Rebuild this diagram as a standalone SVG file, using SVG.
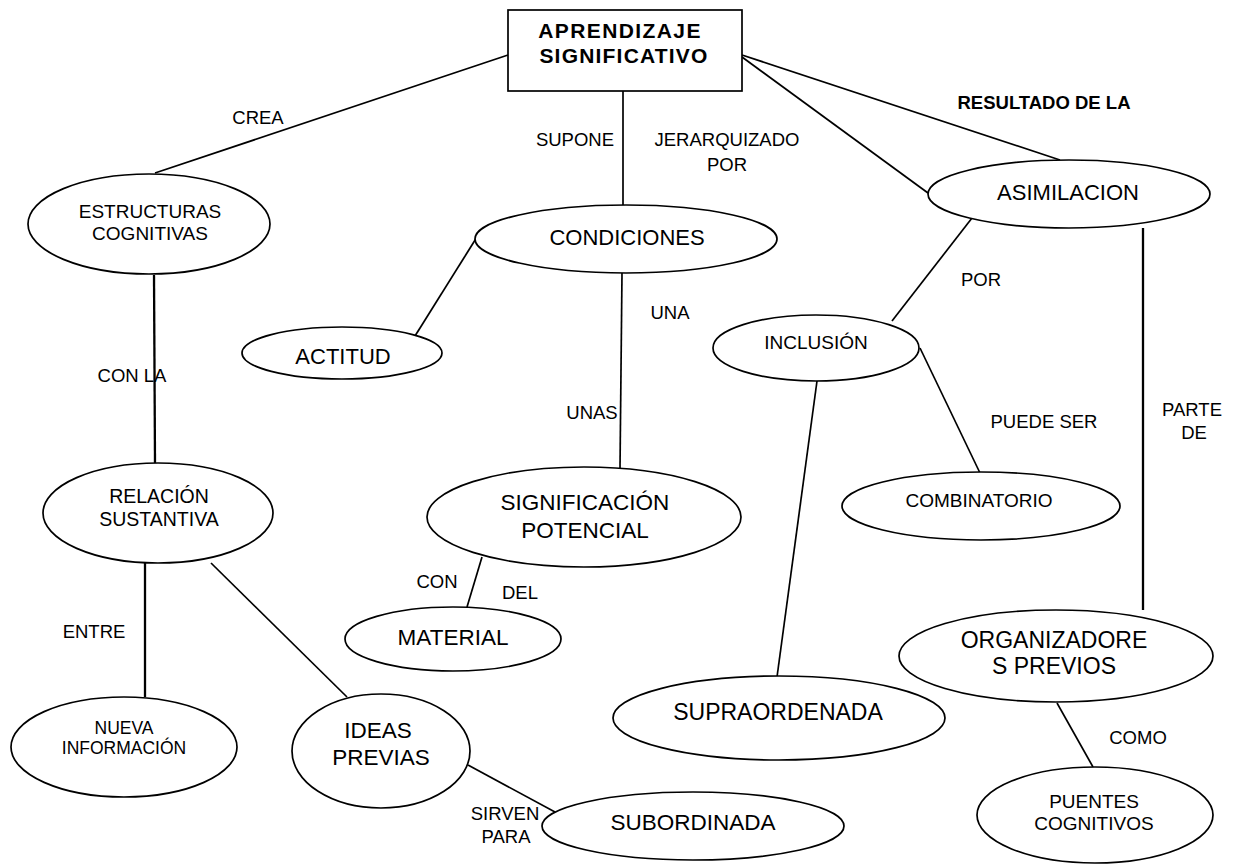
<svg xmlns="http://www.w3.org/2000/svg" width="1239" height="865" viewBox="0 0 1239 865">
<style>
  .n { fill: #fff; stroke: #000; stroke-width: 1.7; }
  .c line { stroke: #000; stroke-width: 1.7; }
  text { font-family: "Liberation Sans", Arial, sans-serif; fill: #000; text-anchor: middle; }
  .lb { font-size: 18.5px; }
  .lbb { font-size: 18.5px; font-weight: bold; }
</style>
<rect width="1239" height="865" fill="#fff"/>
<g class="c" id="connectors">
  <line x1="508" y1="55" x2="155" y2="173"/>
  <line x1="623" y1="91" x2="623" y2="206"/>
  <line x1="742" y1="55" x2="1060" y2="160"/>
  <line x1="742" y1="57" x2="928" y2="193"/>
  <line x1="972" y1="218" x2="892" y2="321"/>
  <line x1="1143" y1="228" x2="1143" y2="610" style="stroke-width:2.3"/>
  <line x1="920" y1="348" x2="980" y2="473"/>
  <line x1="817" y1="381" x2="777" y2="677"/>
  <line x1="477" y1="237" x2="415" y2="336"/>
  <line x1="622" y1="273" x2="620" y2="468"/>
  <line x1="482" y1="557" x2="467" y2="607"/>
  <line x1="154" y1="275" x2="155" y2="463" style="stroke-width:2.3"/>
  <line x1="145" y1="563" x2="145" y2="697" style="stroke-width:2.3"/>
  <line x1="211" y1="563" x2="347" y2="697"/>
  <line x1="468" y1="765" x2="555" y2="812"/>
  <line x1="1057" y1="703" x2="1093" y2="767"/>
</g>
<g id="labels">
  <text class="lb" x="258" y="124">CREA</text>
  <text class="lb" x="575" y="146">SUPONE</text>
  <text class="lb" x="727" y="146">JERARQUIZADO</text>
  <text class="lb" x="727" y="171">POR</text>
  <text class="lbb" x="1044" y="109">RESULTADO DE LA</text>
  <text class="lb" x="981" y="286">POR</text>
  <text class="lb" x="670" y="319">UNA</text>
  <text class="lb" x="592" y="419">UNAS</text>
  <text class="lb" x="132" y="382">CON LA</text>
  <text class="lb" x="1044" y="428">PUEDE SER</text>
  <text class="lb" x="1192" y="416">PARTE</text>
  <text class="lb" x="1194" y="439">DE</text>
  <text class="lb" x="437" y="588">CON</text>
  <text class="lb" x="520" y="599">DEL</text>
  <text class="lb" x="94" y="638">ENTRE</text>
  <text class="lb" x="1138" y="744">COMO</text>
  <text class="lb" x="505" y="820">SIRVEN</text>
  <text class="lb" x="506" y="843">PARA</text>
</g>
<g id="n-aprendizaje">
  <rect class="n" x="508" y="10" width="234" height="81"/>
  <text x="620" y="38" style="font-size:21px;font-weight:bold;letter-spacing:1.4px">APRENDIZAJE</text>
  <text x="624" y="63" style="font-size:21px;font-weight:bold;letter-spacing:1.2px">SIGNIFICATIVO</text>
</g>
<g id="n-estructuras">
  <ellipse class="n" cx="149" cy="224" rx="121" ry="50"/>
  <text x="150" y="218" style="font-size:19px">ESTRUCTURAS</text>
  <text x="150" y="240" style="font-size:19px">COGNITIVAS</text>
</g>
<g id="n-condiciones">
  <ellipse class="n" cx="626" cy="239" rx="151" ry="34"/>
  <text x="627" y="245" style="font-size:22px">CONDICIONES</text>
</g>
<g id="n-asimilacion">
  <ellipse class="n" cx="1069" cy="194" rx="141" ry="34"/>
  <text x="1068" y="200" style="font-size:22px">ASIMILACION</text>
</g>
<g id="n-actitud">
  <ellipse class="n" cx="342" cy="353" rx="100" ry="26"/>
  <text x="343" y="364" style="font-size:22px">ACTITUD</text>
</g>
<g id="n-inclusion">
  <ellipse class="n" cx="816" cy="348" rx="103" ry="33"/>
  <text x="816" y="349" style="font-size:19px">INCLUSIÓN</text>
</g>
<g id="n-relacion">
  <ellipse class="n" cx="158" cy="513" rx="115" ry="50"/>
  <text x="159" y="503" style="font-size:19.5px">RELACIÓN</text>
  <text x="159" y="526" style="font-size:19.5px">SUSTANTIVA</text>
</g>
<g id="n-significacion">
  <ellipse class="n" cx="584" cy="517" rx="157" ry="50"/>
  <text x="585" y="510" style="font-size:22.5px">SIGNIFICACIÓN</text>
  <text x="585" y="538" style="font-size:22.5px">POTENCIAL</text>
</g>
<g id="n-combinatorio">
  <ellipse class="n" cx="981" cy="506" rx="139" ry="34"/>
  <text x="979" y="507" style="font-size:19px">COMBINATORIO</text>
</g>
<g id="n-material">
  <ellipse class="n" cx="453" cy="639" rx="108" ry="32"/>
  <text x="453" y="645" style="font-size:22.5px">MATERIAL</text>
</g>
<g id="n-organizadores">
  <ellipse class="n" cx="1056" cy="656" rx="157" ry="46"/>
  <text x="1054" y="648" style="font-size:23px">ORGANIZADORE</text>
  <text x="1054" y="674" style="font-size:23px">S PREVIOS</text>
</g>
<g id="n-supraordenada">
  <ellipse class="n" cx="779" cy="718" rx="166" ry="42"/>
  <text x="778" y="720" style="font-size:23px">SUPRAORDENADA</text>
</g>
<g id="n-nueva">
  <ellipse class="n" cx="124" cy="747" rx="113" ry="50"/>
  <text x="124" y="734" style="font-size:17.5px">NUEVA</text>
  <text x="124" y="754" style="font-size:17.5px">INFORMACIÓN</text>
</g>
<g id="n-ideas">
  <ellipse class="n" cx="381" cy="751" rx="89" ry="57"/>
  <text x="378" y="738" style="font-size:22.5px">IDEAS</text>
  <text x="381" y="765" style="font-size:22.5px">PREVIAS</text>
</g>
<g id="n-subordinada">
  <ellipse class="n" cx="693" cy="826" rx="151" ry="34"/>
  <text x="693" y="830" style="font-size:22.5px">SUBORDINADA</text>
</g>
<g id="n-puentes">
  <ellipse class="n" cx="1095" cy="815" rx="118" ry="48"/>
  <text x="1094" y="808" style="font-size:19px">PUENTES</text>
  <text x="1094" y="830" style="font-size:19px">COGNITIVOS</text>
</g>
</svg>
